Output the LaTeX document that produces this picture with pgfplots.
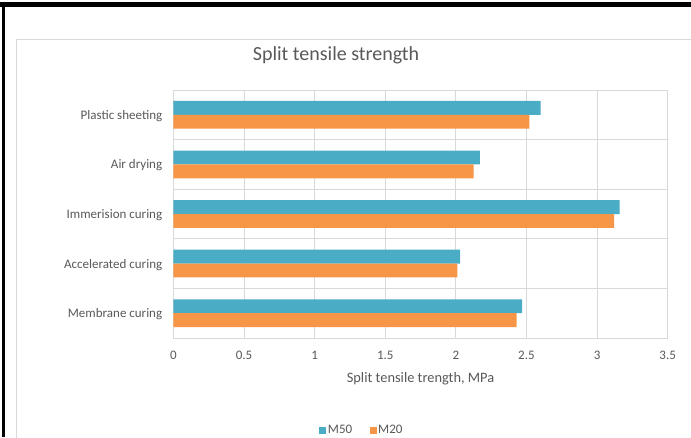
\documentclass[border=0pt]{standalone}
\usepackage{pgfplots}
\pgfplotsset{compat=1.18}
\usepackage{pgfplotstable}
\usepackage{fontspec}
\setmainfont{Carlito}

\definecolor{m50}{HTML}{4BACC6}
\definecolor{m20}{HTML}{F79646}
\definecolor{txt}{HTML}{595959}
\definecolor{gridc}{HTML}{D9D9D9}

% split tensile strength (MPa) per curing method, bottom to top
\pgfplotstableread{
cat m50 m20
0 2.47 2.43
1 2.03 2.01
2 3.16 3.12
3 2.17 2.125
4 2.60 2.52
}\strength

\begin{document}
\begin{tikzpicture}[x=1pt,y=1pt]
\useasboundingbox (0,0) rectangle (691,437);
\fill[white] (0,0) rectangle (691,437);
% page frame
\fill[black] (0,429.5) rectangle (691,435);
\fill[black] (2,0) rectangle (4.5,431);
% chart area border
\draw[gridc, line width=1.3pt] (16.7,-2) -- (16.7,397.3) -- (693,397.3);
\node[txt, font=\fontsize{20}{24}\selectfont] at (336,382) {Split tensile strength};
\begin{axis}[
  at={(173.4pt,99pt)}, anchor=south west,
  scale only axis, width=494.3pt, height=248pt,
  xbar, bar width=0.28,
  xmin=0, xmax=3.5, ymin=-0.5, ymax=4.5,
  xtick={0,0.5,1,1.5,2,2.5,3,3.5},
  xticklabels={0,0.5,1,1.5,2,2.5,3,3.5},
  ytick={0,1,2,3,4},
  yticklabels={Membrane curing, Accelerated curing, Immerision curing, Air drying\ , Plastic sheeting},
  minor ytick={-0.5,0.5,1.5,2.5,3.5,4.5},
  xmajorgrids, yminorgrids,
  grid style={gridc, line width=1pt},
  major tick length=0pt, minor tick length=0pt,
  axis line style={gridc, line width=1pt},
  tick label style={txt, font=\fontsize{13}{15}\selectfont},
  yticklabel style={anchor=east, inner sep=0pt, xshift=-11pt, yshift=-1pt},
  xticklabel style={anchor=north, inner sep=0pt, yshift=-12.5pt},
  xlabel={Split tensile trength, MPa},
  xlabel style={txt, font=\fontsize{14.4}{17}\selectfont, at={(axis description cs:0.5,0)}, anchor=center, yshift=-40.5pt},
  legend style={at={(axis description cs:0.381,-0.371)}, anchor=center, draw=none, fill=none,
    legend columns=2, font=\fontsize{13}{15}\selectfont, text=txt,
    nodes={inner sep=1.5pt},
    /tikz/every even column/.append style={column sep=16pt}},
]
\addplot[fill=m50, draw=none, bar shift=0.14,
  legend image code/.code={\fill[m50] (0pt,-3.5pt) rectangle (7pt,3.5pt);}]
  table[x=m50, y=cat] {\strength};
\addlegendentry{M50}
\addplot[fill=m20, draw=none, bar shift=-0.14,
  legend image code/.code={\fill[m20] (0pt,-3.5pt) rectangle (7pt,3.5pt);}]
  table[x=m20, y=cat] {\strength};
\addlegendentry{M20}
\end{axis}
\end{tikzpicture}
\end{document}
